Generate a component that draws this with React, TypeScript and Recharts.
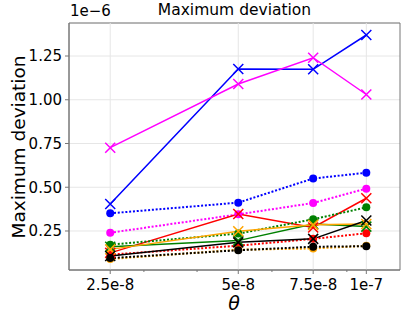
import React from "react";
import {
  LineChart,
  Line,
  XAxis,
  YAxis,
  CartesianGrid,
  ReferenceLine,
  ReferenceArea,
} from "recharts";

// theta in units of 1e-8
const thetas = [2.5, 5, 7.5, 10];
const majorTicks = [2.5, 5, 7.5, 10];
const minorTicks = [3, 4, 6, 9];
const tickLabels = ["2.5e-8", "5e-8", "7.5e-8", "1e-7"];
const yTicks = [0.25, 0.5, 0.75, 1.0, 1.25];

// max deviation in units of 1e-6
const blueCross = [0.404, 1.176, 1.174, 1.37];
const blueDot = [0.351, 0.412, 0.55, 0.583];
const magentaCross = [0.726, 1.09, 1.24, 1.03];
const magentaDot = [0.24, 0.345, 0.41, 0.492];
const redCross = [0.125, 0.347, 0.27, 0.437];
const redDot = [0.115, 0.166, 0.205, 0.237];
const greenCross = [0.16, 0.195, 0.29, 0.275];
const greenDot = [0.172, 0.235, 0.317, 0.385];
const orangeCross = [0.145, 0.248, 0.285, 0.29];
const orangeDot = [0.09, 0.143, 0.15, 0.165];
const blackCross = [0.107, 0.185, 0.205, 0.31];
const blackDot = [0.095, 0.14, 0.16, 0.163];

const series = [
  { key: "bc", vals: blueCross, color: "#0000ff", cross: true },
  { key: "bd", vals: blueDot, color: "#0000ff", cross: false },
  { key: "mc", vals: magentaCross, color: "#ff00ff", cross: true },
  { key: "md", vals: magentaDot, color: "#ff00ff", cross: false },
  { key: "rc", vals: redCross, color: "#ff0000", cross: true },
  { key: "rd", vals: redDot, color: "#ff0000", cross: false },
  { key: "gc", vals: greenCross, color: "#008000", cross: true },
  { key: "gd", vals: greenDot, color: "#008000", cross: false },
  { key: "oc", vals: orangeCross, color: "#ffa500", cross: true },
  { key: "od", vals: orangeDot, color: "#ffa500", cross: false },
  { key: "kc", vals: blackCross, color: "#000000", cross: true },
  { key: "kd", vals: blackDot, color: "#000000", cross: false },
];

const data = thetas.map((t, i) => {
  const row: Record<string, number> = { x: t };
  series.forEach((s) => (row[s.key] = s.vals[i]));
  return row;
});

const FONT = "DejaVu Sans, sans-serif";
const SPINE = "#777";

const crossDot = (color: string) => (props: any) => {
  const { cx, cy, index } = props;
  if (cx == null || cy == null) return <g key={index} />;
  const s = 5;
  return (
    <path
      key={index}
      d={`M${cx - s},${cy - s}L${cx + s},${cy + s}M${cx - s},${cy + s}L${cx + s},${cy - s}`}
      stroke={color}
      strokeWidth={1.5}
      fill="none"
    />
  );
};

const XTick = (props: any) => {
  const { x, y, payload } = props;
  const idx = majorTicks.indexOf(payload.value);
  const major = idx >= 0;
  return (
    <g>
      <line x1={x} x2={x} y1={y} y2={y + (major ? 4 : 2)} stroke={SPINE} />
      {major && (
        <text x={x} y={y + 20} textAnchor="middle" fontSize={15} fontFamily={FONT} fill="#000">
          {tickLabels[idx]}
        </text>
      )}
    </g>
  );
};

export default function App() {
  return (
    <div style={{ position: "absolute", left: 0, top: 0, width: 407, height: 320, background: "#fff" }}>
      <LineChart width={407} height={320} data={data} margin={{ top: 23, right: 7, bottom: 20, left: 0 }}>
        <CartesianGrid vertical={false} stroke="#e6e6e6" />
        {majorTicks.map((t) => (
          <ReferenceLine key={t} x={t} stroke="#e6e6e6" />
        ))}
        <XAxis
          dataKey="x"
          type="number"
          scale="log"
          domain={[2, 12]}
          allowDataOverflow
          ticks={[...majorTicks, ...minorTicks]}
          interval={0}
          height={30}
          tickLine={false}
          tickSize={0}
          tickMargin={0}
          tick={<XTick />}
          axisLine={{ stroke: SPINE }}
        />
        <YAxis
          type="number"
          domain={[0.0271, 1.4386]}
          allowDataOverflow
          ticks={yTicks}
          width={69}
          tickSize={4}
          tickMargin={3}
          tickFormatter={(v: number) => v.toFixed(2)}
          tick={{ fontSize: 15, fontFamily: FONT, fill: "#000" }}
          tickLine={{ stroke: SPINE }}
          axisLine={{ stroke: SPINE }}
        />
        <ReferenceArea x1={2} x2={12} y1={0.0271} y2={1.4386} fill="none" stroke={SPINE} ifOverflow="extendDomain" />
        {series.map((s) =>
          s.cross ? (
            <Line
              key={s.key}
              dataKey={s.key}
              stroke={s.color}
              strokeWidth={1.5}
              dot={crossDot(s.color)}
              activeDot={false}
              isAnimationActive={false}
            />
          ) : (
            <Line
              key={s.key}
              dataKey={s.key}
              stroke={s.color}
              strokeWidth={2}
              strokeDasharray="2 1.8"
              dot={{ r: 4, fill: s.color, stroke: "none", strokeDasharray: "none" }}
              activeDot={false}
              isAnimationActive={false}
            />
          )
        )}
      </LineChart>
      <div style={{ position: "absolute", left: 69, width: 331, top: 1, textAlign: "center", fontFamily: FONT, fontSize: 15.5 }}>
        Maximum deviation
      </div>
      <div style={{ position: "absolute", left: 70, top: 2, fontFamily: FONT, fontSize: 15 }}>1e−6</div>
      <div
        style={{
          position: "absolute",
          left: 18,
          top: 147,
          transform: "translate(-50%, -50%) rotate(-90deg)",
          whiteSpace: "nowrap",
          fontFamily: FONT,
          fontSize: 18.5,
        }}
      >
        Maximum deviation
      </div>
      <div
        style={{
          position: "absolute",
          left: 234,
          top: 303,
          transform: "translate(-50%, -50%)",
          fontFamily: FONT,
          fontStyle: "italic",
          fontSize: 19,
        }}
      >
        θ
      </div>
    </div>
  );
}
